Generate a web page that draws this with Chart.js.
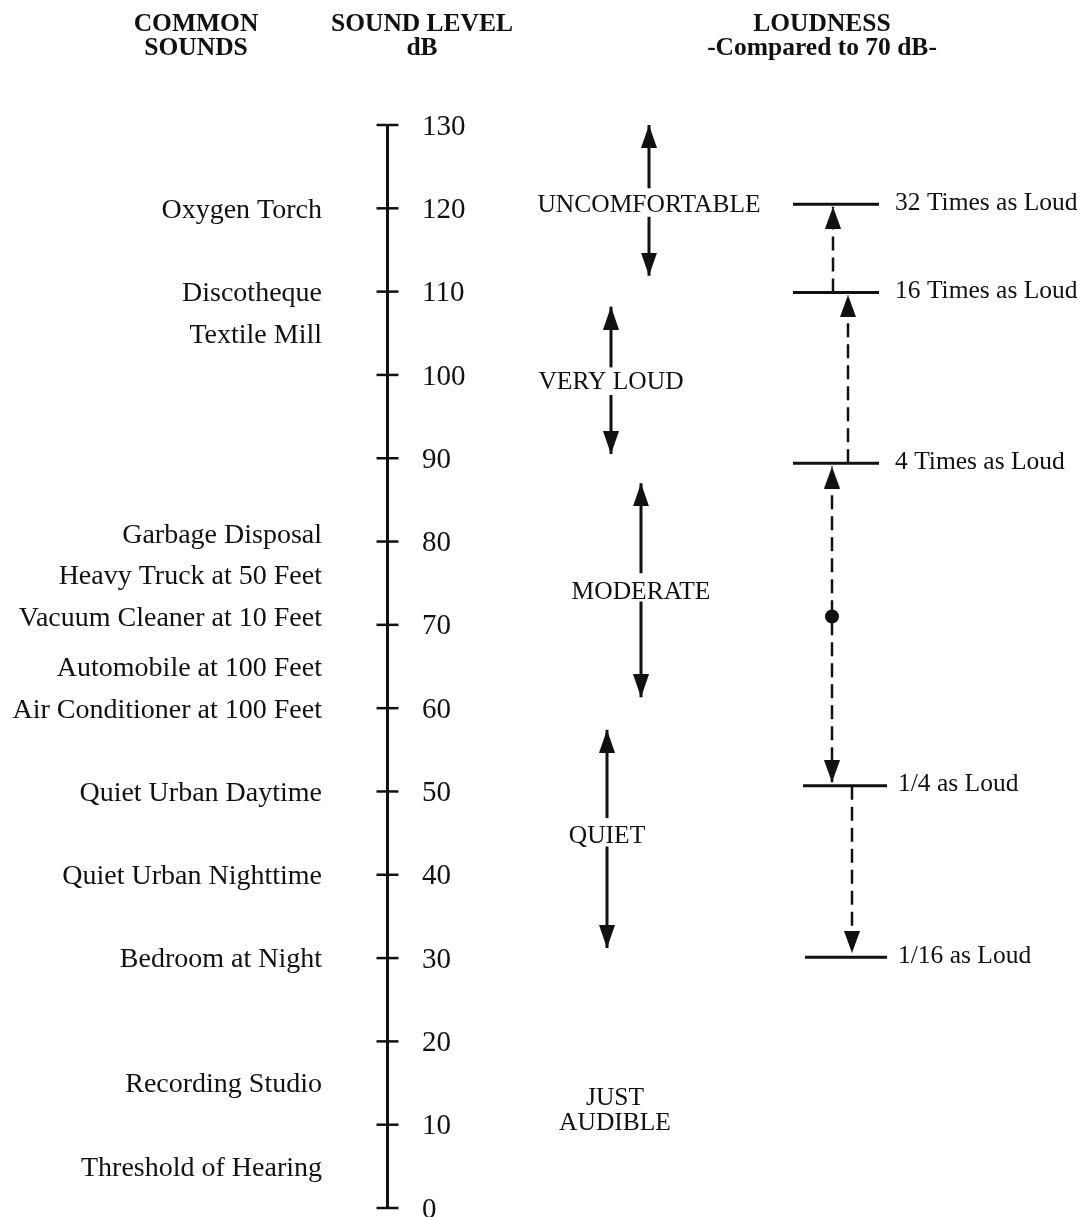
<!DOCTYPE html>
<html>
<head>
<meta charset="utf-8">
<script src="https://cdn.jsdelivr.net/npm/chart.js@4/dist/chart.umd.min.js"></script>
<style>
  html, body { margin: 0; padding: 0; background: #ffffff; }
  canvas { display: block; }
</style>
</head>
<body>
<canvas id="chart" width="1081" height="1217"></canvas>
<script>
// ---------------- DATA ----------------
const dbTicks = [0, 10, 20, 30, 40, 50, 60, 70, 80, 90, 100, 110, 120, 130];

const soundLabels = [
  'Oxygen Torch', 'Discotheque', 'Textile Mill', 'Garbage Disposal',
  'Heavy Truck at 50 Feet', 'Vacuum Cleaner at 10 Feet', 'Automobile at 100 Feet',
  'Air Conditioner at 100 Feet', 'Quiet Urban Daytime', 'Quiet Urban Nighttime',
  'Bedroom at Night', 'Recording Studio', 'Threshold of Hearing'
];
const soundLevels = [120, 110, 105, 81, 76, 71, 65, 60, 50, 40, 30, 15, 5];

const categoryLabels = ['UNCOMFORTABLE', 'VERY LOUD', 'MODERATE', 'QUIET', 'JUST AUDIBLE'];
const categoryLevels = [120.6, 99.3, 74.2, 44.8, 11.9];
const categoryTops = [130, 108.2, 87.0, 57.4, null];
const categoryBottoms = [111.9, 90.5, 61.3, 31.2, null];
const categoryGapTops = [122.4, 100.9, 76.2, 46.8, null];
const categoryGapBottoms = [119.0, 97.6, 72.8, 43.4, null];

const loudnessLabels = ['32 Times as Loud', '16 Times as Loud', '4 Times as Loud', '1/4 as Loud', '1/16 as Loud'];
const loudnessLevels = [120.5, 109.9, 89.4, 50.7, 30.1];

const connectorFrom = [109.9, 89.4, 51.1, 50.7];
const connectorTo = [120.2, 109.6, 89.0, 30.6];
const connectorArrowAtFrom = [false, false, true, false];

const referenceLevel = [71]; // 70 dB reference point

// ---------------- LAYOUT (not data) ----------------
const LAYOUT = {
  axisX: 387.5,
  tickHalf: 11,
  tickLabelX: 422,
  soundLabelX: 322,
  categoryX: [649, 611, 641, 607, 615],
  loudLineX: [[793, 879], [793, 879], [793, 879], [803, 887], [805, 887]],
  loudLabelX: [895, 895, 895, 898, 898],
  connectorX: [833, 848, 832, 852],
  dotX: 832,
  textShift: 2
};
const INK = '#111111';
const SERIF = '"Liberation Serif", "Times New Roman", serif';

function makeArrow(w, h) {
  const c = document.createElement('canvas');
  c.width = w; c.height = 2 * h;
  const g = c.getContext('2d');
  g.fillStyle = INK;
  g.beginPath();
  g.moveTo(w / 2, h);
  g.lineTo(w, 2 * h);
  g.lineTo(0, 2 * h);
  g.closePath();
  g.fill();
  return c;
}
const solidArrow = makeArrow(16, 23);
const dashArrow = makeArrow(16, 22);

// ---------------- DATASETS ----------------
const datasets = [];

// reference dot at 70 dB
datasets.push({
  data: referenceLevel.map(v => ({ x: LAYOUT.dotX, y: v })),
  pointStyle: 'circle', pointRadius: 7, pointBackgroundColor: INK, pointBorderColor: INK,
  pointBorderWidth: 0, showLine: false, clip: false
});

// axis line
datasets.push({
  data: [{ x: LAYOUT.axisX, y: dbTicks[0] }, { x: LAYOUT.axisX, y: dbTicks[dbTicks.length - 1] }],
  showLine: true, borderColor: INK, borderWidth: 3, pointRadius: 0, clip: false
});
// tick marks
datasets.push({
  data: dbTicks.map(v => ({ x: LAYOUT.axisX, y: v })),
  showLine: false, pointStyle: 'line', pointRadius: LAYOUT.tickHalf,
  pointBorderColor: INK, pointBorderWidth: 2.5, clip: false
});

// category arrows
categoryLabels.forEach((lab, i) => {
  if (categoryTops[i] == null) return;
  const x = LAYOUT.categoryX[i];
  datasets.push({
    data: [{ x, y: categoryGapTops[i] }, { x, y: categoryTops[i] }],
    showLine: true, borderColor: INK, borderWidth: 3,
    pointRadius: [0, 1], pointStyle: ['circle', solidArrow], rotation: [0, 0], clip: false
  });
  datasets.push({
    data: [{ x, y: categoryGapBottoms[i] }, { x, y: categoryBottoms[i] }],
    showLine: true, borderColor: INK, borderWidth: 3,
    pointRadius: [0, 1], pointStyle: ['circle', solidArrow], rotation: [0, 180], clip: false
  });
});

// loudness reference lines
loudnessLevels.forEach((lv, i) => {
  const [x1, x2] = LAYOUT.loudLineX[i];
  datasets.push({
    data: [{ x: x1, y: lv }, { x: x2, y: lv }],
    showLine: true, borderColor: INK, borderWidth: 3, pointRadius: 0, clip: false
  });
});

// dashed connectors
connectorFrom.forEach((from, i) => {
  const to = connectorTo[i];
  const x = LAYOUT.connectorX[i];
  const up = to > from;
  datasets.push({
    data: [{ x, y: from }, { x, y: to }],
    showLine: true, borderColor: INK, borderWidth: 2.5, borderDash: [14, 7],
    pointRadius: [connectorArrowAtFrom[i] ? 1 : 0, 1],
    pointStyle: [dashArrow, dashArrow],
    rotation: [up ? 180 : 0, up ? 0 : 180],
    clip: false
  });
});

// ---------------- TEXT PLUGIN ----------------
const textPlugin = {
  id: 'diagramText',
  afterDatasetsDraw(chart) {
    const ctx = chart.ctx;
    const y = chart.scales.y;
    const d = LAYOUT.textShift;
    ctx.save();
    ctx.fillStyle = INK;

    // headers
    ctx.font = 'bold 25.5px ' + SERIF;
    ctx.textAlign = 'center';
    ctx.textBaseline = 'middle';
    ctx.fillText('COMMON', 196, 22 + d);
    ctx.fillText('SOUNDS', 196, 46 + d);
    ctx.fillText('SOUND LEVEL', 422, 22 + d);
    ctx.fillText('dB', 422, 46 + d);
    ctx.fillText('LOUDNESS', 822, 22 + d);
    ctx.fillText('-Compared to 70 dB-', 822, 46 + d);

    // axis tick labels
    ctx.font = '29px ' + SERIF;
    ctx.textAlign = 'left';
    y.ticks.forEach(t => {
      ctx.fillText(String(t.value), LAYOUT.tickLabelX, y.getPixelForValue(t.value) + d);
    });

    // common sounds
    ctx.font = '28px ' + SERIF;
    ctx.textAlign = 'right';
    soundLabels.forEach((s, i) => {
      ctx.fillText(s, LAYOUT.soundLabelX, y.getPixelForValue(soundLevels[i]) + d);
    });

    // categories
    ctx.font = '25.5px ' + SERIF;
    ctx.textAlign = 'center';
    categoryLabels.forEach((s, i) => {
      const py = y.getPixelForValue(categoryLevels[i]) + d;
      const words = s === 'JUST AUDIBLE' ? ['JUST', 'AUDIBLE'] : [s];
      const lh = 25;
      words.forEach((w, k) => {
        ctx.fillText(w, LAYOUT.categoryX[i], py + (k - (words.length - 1) / 2) * lh);
      });
    });

    // loudness labels
    ctx.font = '25.5px ' + SERIF;
    ctx.textAlign = 'left';
    loudnessLabels.forEach((s, i) => {
      ctx.fillText(s, LAYOUT.loudLabelX[i], y.getPixelForValue(loudnessLevels[i]) - 3 + d);
    });

    ctx.restore();
  }
};

new Chart(document.getElementById('chart'), {
  type: 'scatter',
  data: { datasets },
  options: {
    responsive: false,
    animation: false,
    devicePixelRatio: 1,
    events: [],
    layout: { autoPadding: false, padding: { top: 125, bottom: 9, left: 0, right: 0 } },
    elements: { line: { tension: 0, fill: false } },
    scales: {
      x: { type: 'linear', min: 0, max: 1081, display: false },
      y: {
        type: 'linear', min: 0, max: 130, display: false,
        afterBuildTicks: s => { s.ticks = dbTicks.map(v => ({ value: v })); }
      }
    },
    plugins: { legend: { display: false }, tooltip: { enabled: false } }
  },
  plugins: [textPlugin]
});
</script>
</body>
</html>
